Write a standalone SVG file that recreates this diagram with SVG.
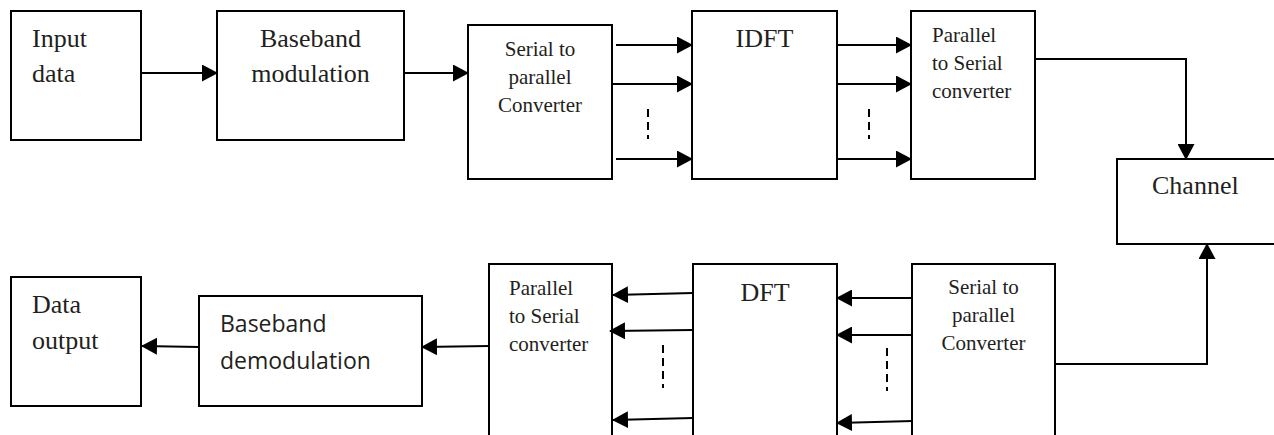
<svg xmlns="http://www.w3.org/2000/svg" width="1274" height="435" viewBox="0 0 1274 435">
  <style>
    .box { fill: #ffffff; stroke: #000000; stroke-width: 2; }
    .wire { fill: none; stroke: #000000; stroke-width: 2; }
    .dots { fill: none; stroke: #000000; stroke-width: 2; stroke-dasharray: 8 5; }
    .big { font-family: "Liberation Serif", "Times New Roman", serif; font-size: 26px; fill: #231f20; }
    .small { font-family: "Liberation Serif", "Times New Roman", serif; font-size: 21px; fill: #231f20; }
    .sans { font-family: "Open Sans", "Liberation Sans", sans-serif; font-size: 23px; fill: #231f20; }
    .mid { text-anchor: middle; }
  </style>
  <defs>
    <marker id="arrow" markerUnits="userSpaceOnUse" markerWidth="16" markerHeight="17" viewBox="0 0 16 17" refX="15" refY="8.5" orient="auto">
      <path d="M0,0 L16,8.5 L0,17 Z" fill="#000000"/>
    </marker>
  </defs>
  <rect width="1274" height="435" fill="#ffffff"/>

  <!-- transmitter chain -->
  <g id="input-data">
    <rect class="box" x="11" y="11" width="130" height="129"/>
    <text class="big" x="32" y="47">Input</text>
    <text class="big" x="32" y="82">data</text>
  </g>
  <g id="baseband-modulation">
    <rect class="box" x="217" y="11" width="187" height="129"/>
    <text class="big mid" x="310.5" y="47">Baseband</text>
    <text class="big mid" x="310.5" y="82">modulation</text>
  </g>
  <g id="serial-to-parallel-tx">
    <rect class="box" x="468" y="25" width="144" height="154"/>
    <text class="small mid" x="540" y="56">Serial to</text>
    <text class="small mid" x="540" y="84">parallel</text>
    <text class="small mid" x="540" y="112">Converter</text>
  </g>
  <g id="idft">
    <rect class="box" x="692" y="11" width="145" height="168"/>
    <text class="big mid" x="764.5" y="47">IDFT</text>
  </g>
  <g id="parallel-to-serial-tx">
    <rect class="box" x="911" y="11" width="124" height="168"/>
    <text class="small" x="932" y="42">Parallel</text>
    <text class="small" x="932" y="70">to Serial</text>
    <text class="small" x="932" y="98">converter</text>
  </g>
  <g id="channel">
    <rect class="box" x="1117" y="159" width="170" height="85"/>
    <text class="big" x="1152" y="194">Channel</text>
  </g>

  <!-- receiver chain -->
  <g id="data-output">
    <rect class="box" x="11" y="277" width="130" height="129"/>
    <text class="big" x="32" y="313">Data</text>
    <text class="big" x="32" y="349">output</text>
  </g>
  <g id="baseband-demodulation">
    <rect class="box" x="199" y="296" width="223" height="110"/>
    <text class="sans" x="220" y="332">Baseband</text>
    <text class="sans" x="220" y="369">demodulation</text>
  </g>
  <g id="parallel-to-serial-rx">
    <rect class="box" x="489" y="264" width="123" height="190"/>
    <text class="small" x="509" y="295">Parallel</text>
    <text class="small" x="509" y="323">to Serial</text>
    <text class="small" x="509" y="351">converter</text>
  </g>
  <g id="dft">
    <rect class="box" x="693" y="264" width="144" height="190"/>
    <text class="big mid" x="765" y="301">DFT</text>
  </g>
  <g id="serial-to-parallel-rx">
    <rect class="box" x="912" y="264" width="143" height="190"/>
    <text class="small mid" x="983.5" y="294">Serial to</text>
    <text class="small mid" x="983.5" y="322">parallel</text>
    <text class="small mid" x="983.5" y="350">Converter</text>
  </g>

  <!-- connectors -->
  <g id="connectors">
    <line class="wire" x1="141" y1="73" x2="217" y2="73" marker-end="url(#arrow)"/>
    <line class="wire" x1="404" y1="73" x2="468" y2="73" marker-end="url(#arrow)"/>

    <line class="wire" x1="616" y1="45" x2="692" y2="45" marker-end="url(#arrow)"/>
    <line class="wire" x1="612" y1="84" x2="692" y2="84" marker-end="url(#arrow)"/>
    <line class="wire" x1="616" y1="159" x2="692" y2="159" marker-end="url(#arrow)"/>
    <line class="dots" x1="648" y1="109" x2="648" y2="139"/>

    <line class="wire" x1="837" y1="45" x2="911" y2="45" marker-end="url(#arrow)"/>
    <line class="wire" x1="837" y1="84" x2="911" y2="84" marker-end="url(#arrow)"/>
    <line class="wire" x1="837" y1="159" x2="911" y2="159" marker-end="url(#arrow)"/>
    <line class="dots" x1="869" y1="109" x2="869" y2="139"/>

    <polyline class="wire" points="1035,59 1186,59 1186,159" marker-end="url(#arrow)"/>
    <polyline class="wire" points="1055,364 1207,364 1207,244" marker-end="url(#arrow)"/>

    <line class="wire" x1="912" y1="298" x2="837" y2="298" marker-end="url(#arrow)"/>
    <line class="wire" x1="912" y1="335" x2="837" y2="335" marker-end="url(#arrow)"/>
    <line class="wire" x1="913" y1="421" x2="837" y2="423" marker-end="url(#arrow)"/>
    <line class="dots" x1="887" y1="348" x2="887" y2="391"/>

    <line class="wire" x1="693" y1="293" x2="613" y2="295" marker-end="url(#arrow)"/>
    <line class="wire" x1="693" y1="330" x2="610" y2="331" marker-end="url(#arrow)"/>
    <line class="wire" x1="693" y1="418" x2="613" y2="420" marker-end="url(#arrow)"/>
    <line class="dots" x1="663" y1="345" x2="663" y2="388"/>

    <line class="wire" x1="489" y1="346" x2="422" y2="347" marker-end="url(#arrow)"/>
    <line class="wire" x1="199" y1="347" x2="142" y2="346" marker-end="url(#arrow)"/>
  </g>
</svg>
